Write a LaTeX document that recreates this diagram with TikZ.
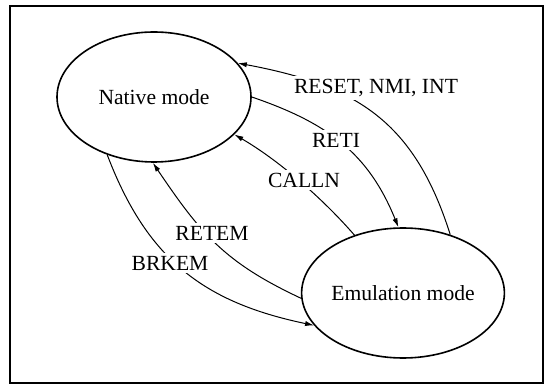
\documentclass[tikz,border=0pt]{standalone}
\usepackage{fontspec}
\setmainfont{Liberation Serif}
\usepackage{tikz}
\usetikzlibrary{shapes.geometric,arrows.meta}

\begin{document}
\begin{tikzpicture}[x=0.5pt,y=0.5pt,
            mode/.style = {ellipse, draw, line width=0.8pt,
                        minimum width = 97pt, minimum height = 65pt,
                        inner sep = 0pt, font=\fontsize{10.8}{13}\selectfont},
            trans/.style = {line width=0.5pt, -{Latex[length=4.5pt,width=2.6pt]}},
            lbl/.style = {fill=white, inner sep=1.5pt,
                        font=\fontsize{10.8}{13}\selectfont}]
            \useasboundingbox (0,0) rectangle (550,385);
            \draw[line width=1pt] (10,2) rectangle (543,379);
            % Modes
            \node[mode] (nat) at (154,288) {Native mode};
            \node[mode] (emu) at (403,92) {Emulation mode};
            % Transitions
            \draw[trans] (emu.51) .. controls +(-36,114) and +(118,-22) .. (nat.22);
            \draw[trans] (nat.0) .. controls +(76,-26) and +(-30,74) .. (emu.94);
            \draw[trans] (emu.130) .. controls +(-33,38) and +(43,-25) .. (nat.-25);
            \draw[trans] (emu.183) .. controls +(-77,36) and +(48,-71) .. (nat.269);
            \draw[trans] (nat.231) .. controls +(40,-105) and +(-110,23) .. (emu.200);
            % Transition labels
            \node[lbl] (lreset) at (376,297) {RESET, NMI, INT};
            \node[lbl] (lreti) at (336,245) {RETI};
            \node[lbl] (lcalln) at (304,205) {CALLN};
            \node[lbl] (lretem) at (212,152) {RETEM};
            \node[lbl] (lbrkem) at (170,122) {BRKEM};
        \end{tikzpicture}
\end{document}
